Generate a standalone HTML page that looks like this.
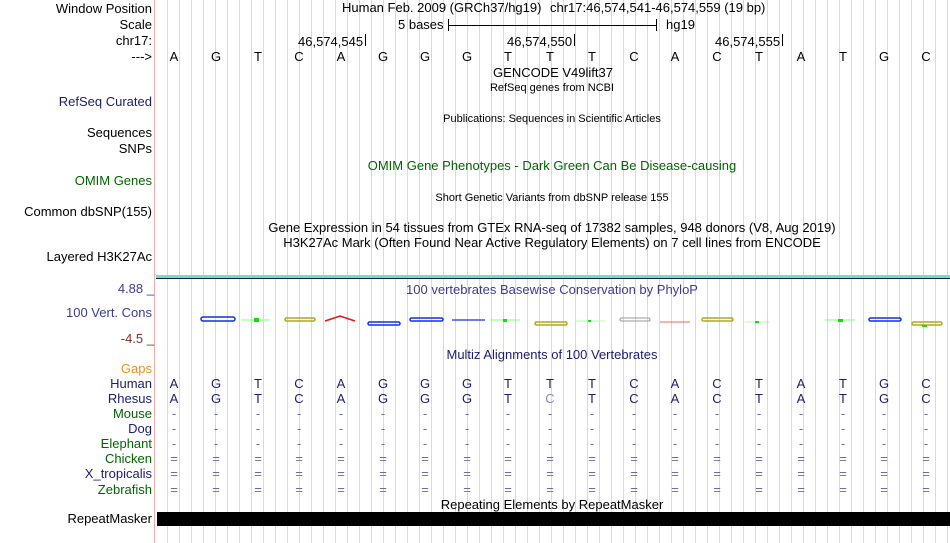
<!DOCTYPE html>
<html><head><meta charset="utf-8"><style>
body{margin:0;width:950px;height:543px;overflow:hidden;background:#fff;font-family:"Liberation Sans",sans-serif;font-size:13px;position:relative}
div,span{position:absolute;white-space:nowrap;line-height:14px}
.l{right:798px;text-align:right}
.c{width:40px;margin-left:-20px;text-align:center}
.t{width:800px;margin-left:-400px;text-align:center}
.s{font-size:11px}
#grid{left:156px;top:0;width:794px;height:543px;background:repeating-linear-gradient(90deg,transparent 0,transparent 11px,#d6d6f2 11px,#d6d6f2 12px);}
.n{color:#1c1c70}.g{color:#006400}.d{color:#6a6aa8}
</style></head><body>
<div id="grid"></div>
<div style="left:154px;top:0;width:1px;height:543px;background:#f4a8a8"></div>

<div class="l" style="top:2px">Window Position</div>
<div class="l" style="top:18px">Scale</div>
<div class="l" style="top:34px">chr17:</div>
<div class="l" style="top:50px">---&gt;</div>
<div class="l n" style="top:95px">RefSeq Curated</div>
<div class="l" style="top:126px">Sequences</div>
<div class="l" style="top:142px">SNPs</div>
<div class="l g" style="top:174px">OMIM Genes</div>
<div class="l" style="top:205px">Common dbSNP(155)</div>
<div class="l" style="top:250px">Layered H3K27Ac</div>

<div style="left:342px;top:1px">Human Feb. 2009 (GRCh37/hg19)</div>
<div style="left:550px;top:1px">chr17:46,574,541-46,574,559 (19 bp)</div>
<div style="left:398px;top:18px">5 bases</div>
<div style="left:448px;top:19px;width:1px;height:12px;background:#000"></div>
<div style="left:448px;top:25px;width:209px;height:1px;background:#000"></div>
<div style="left:656px;top:19px;width:1px;height:12px;background:#000"></div>
<div style="left:666px;top:18px">hg19</div>
<div style="left:298px;top:35px">46,574,545</div><div style="left:365px;top:34px;width:1px;height:12px;background:#000"></div>
<div style="left:507px;top:35px">46,574,550</div><div style="left:574px;top:34px;width:1px;height:12px;background:#000"></div>
<div style="left:715px;top:35px">46,574,555</div><div style="left:782px;top:34px;width:1px;height:12px;background:#000"></div>

<div class="c" style="left:174px;top:50px">A</div><div class="c" style="left:216px;top:50px">G</div><div class="c" style="left:258px;top:50px">T</div><div class="c" style="left:299px;top:50px">C</div><div class="c" style="left:341px;top:50px">A</div><div class="c" style="left:383px;top:50px">G</div><div class="c" style="left:425px;top:50px">G</div><div class="c" style="left:467px;top:50px">G</div><div class="c" style="left:508px;top:50px">T</div><div class="c" style="left:550px;top:50px">T</div><div class="c" style="left:592px;top:50px">T</div><div class="c" style="left:634px;top:50px">C</div><div class="c" style="left:675px;top:50px">A</div><div class="c" style="left:717px;top:50px">C</div><div class="c" style="left:759px;top:50px">T</div><div class="c" style="left:801px;top:50px">A</div><div class="c" style="left:843px;top:50px">T</div><div class="c" style="left:884px;top:50px">G</div><div class="c" style="left:926px;top:50px">C</div>

<div class="t" style="left:553px;top:66px">GENCODE V49lift37</div>
<div class="t s" style="left:552px;top:81px">RefSeq genes from NCBI</div>
<div class="t s" style="left:552px;top:112px">Publications: Sequences in Scientific Articles</div>
<div class="t g" style="left:552px;top:159px">OMIM Gene Phenotypes - Dark Green Can Be Disease-causing</div>
<div class="t s" style="left:552px;top:191px">Short Genetic Variants from dbSNP release 155</div>
<div class="t" style="left:552px;top:221px">Gene Expression in 54 tissues from GTEx RNA-seq of 17382 samples, 948 donors (V8, Aug 2019)</div>
<div class="t" style="left:552px;top:236px">H3K27Ac Mark (Often Found Near Active Regulatory Elements) on 7 cell lines from ENCODE</div>

<div style="left:156px;top:275px;width:794px;height:3px;background:#6ee0c4"></div>
<div style="left:156px;top:278px;width:794px;height:1px;background:#0f1a55"></div>

<div style="right:796px;top:282px;color:#3c3c8c">4.88 _</div>
<div class="l" style="top:306px;color:#3c3c8c">100 Vert. Cons</div>
<div style="right:796px;top:332px;color:#8b2a2a">-4.5 _</div>
<div class="t" style="left:552px;top:283px;color:#3c3c8c">100 vertebrates Basewise Conservation by PhyloP</div>
<svg style="position:absolute;left:0;top:0" width="950" height="543">
<g fill="none" stroke-width="1.5">
<rect x="201" y="317" width="34" height="4" rx="2" stroke="#1030e0"/>
<line x1="241" y1="320" x2="270" y2="320" stroke="#80ff80" stroke-width="1"/><rect x="254" y="318" width="5" height="4" fill="#10e010" stroke="none"/>
<rect x="285" y="318" width="30" height="3" rx="1.5" stroke="#b0a820"/>
<polyline points="325,321 340,316 355,321" stroke="#f01010"/>
<rect x="368" y="322" width="32" height="3" rx="1.5" stroke="#1030e0"/>
<rect x="410" y="318" width="33" height="3" rx="1.5" stroke="#1030e0"/>
<line x1="452" y1="320" x2="485" y2="320" stroke="#4050e0"/>
<line x1="490" y1="320" x2="520" y2="320" stroke="#80ff80" stroke-width="1"/><rect x="503" y="319" width="4" height="3" fill="#10e010" stroke="none"/>
<rect x="535" y="322" width="32" height="3" rx="1.5" stroke="#b0a820"/>
<line x1="575" y1="321" x2="605" y2="321" stroke="#b0ffb0" stroke-width="1"/><rect x="588" y="320" width="3" height="2" fill="#10e010" stroke="none"/>
<rect x="620" y="318" width="30" height="3" rx="1.5" stroke="#9a9a9a" stroke-width="1"/>
<line x1="660" y1="322" x2="690" y2="322" stroke="#f06060" stroke-width="1"/>
<rect x="702" y="318" width="31" height="3" rx="1.5" stroke="#b0a820"/>
<line x1="745" y1="322" x2="770" y2="322" stroke="#b0ffb0" stroke-width="1"/><rect x="755" y="321" width="4" height="2" fill="#10e010" stroke="none"/>
<line x1="825" y1="320" x2="855" y2="320" stroke="#80ff80" stroke-width="1"/><rect x="838" y="319" width="5" height="3" fill="#10e010" stroke="none"/>
<rect x="869" y="318" width="32" height="3" rx="1.5" stroke="#1030e0"/>
<rect x="912" y="322" width="30" height="3" rx="1.5" stroke="#b0a820"/><rect x="922" y="325" width="5" height="2" fill="#10e010" stroke="none"/>
</g></svg>

<div class="t n" style="left:552px;top:348px">Multiz Alignments of 100 Vertebrates</div>
<div class="l" style="top:362px;color:#f09018">Gaps</div>
<div class="l n" style="top:377px">Human</div>
<div class="l n" style="top:392px">Rhesus</div>
<div class="l g" style="top:407px">Mouse</div>
<div class="l n" style="top:422px">Dog</div>
<div class="l g" style="top:437px">Elephant</div>
<div class="l g" style="top:452px">Chicken</div>
<div class="l n" style="top:467px">X_tropicalis</div>
<div class="l g" style="top:483px">Zebrafish</div>

<div class="n">
<div class="c" style="left:174px;top:377px">A</div><div class="c" style="left:216px;top:377px">G</div><div class="c" style="left:258px;top:377px">T</div><div class="c" style="left:299px;top:377px">C</div><div class="c" style="left:341px;top:377px">A</div><div class="c" style="left:383px;top:377px">G</div><div class="c" style="left:425px;top:377px">G</div><div class="c" style="left:467px;top:377px">G</div><div class="c" style="left:508px;top:377px">T</div><div class="c" style="left:550px;top:377px">T</div><div class="c" style="left:592px;top:377px">T</div><div class="c" style="left:634px;top:377px">C</div><div class="c" style="left:675px;top:377px">A</div><div class="c" style="left:717px;top:377px">C</div><div class="c" style="left:759px;top:377px">T</div><div class="c" style="left:801px;top:377px">A</div><div class="c" style="left:843px;top:377px">T</div><div class="c" style="left:884px;top:377px">G</div><div class="c" style="left:926px;top:377px">C</div>
<div class="c" style="left:174px;top:392px">A</div><div class="c" style="left:216px;top:392px">G</div><div class="c" style="left:258px;top:392px">T</div><div class="c" style="left:299px;top:392px">C</div><div class="c" style="left:341px;top:392px">A</div><div class="c" style="left:383px;top:392px">G</div><div class="c" style="left:425px;top:392px">G</div><div class="c" style="left:467px;top:392px">G</div><div class="c" style="left:508px;top:392px">T</div><div class="c" style="left:550px;top:392px;color:#8a8ab8">C</div><div class="c" style="left:592px;top:392px">T</div><div class="c" style="left:634px;top:392px">C</div><div class="c" style="left:675px;top:392px">A</div><div class="c" style="left:717px;top:392px">C</div><div class="c" style="left:759px;top:392px">T</div><div class="c" style="left:801px;top:392px">A</div><div class="c" style="left:843px;top:392px">T</div><div class="c" style="left:884px;top:392px">G</div><div class="c" style="left:926px;top:392px">C</div>
</div>
<div class="d">
<div class="c" style="left:174px;top:407px">-</div><div class="c" style="left:216px;top:407px">-</div><div class="c" style="left:258px;top:407px">-</div><div class="c" style="left:299px;top:407px">-</div><div class="c" style="left:341px;top:407px">-</div><div class="c" style="left:383px;top:407px">-</div><div class="c" style="left:425px;top:407px">-</div><div class="c" style="left:467px;top:407px">-</div><div class="c" style="left:508px;top:407px">-</div><div class="c" style="left:550px;top:407px">-</div><div class="c" style="left:592px;top:407px">-</div><div class="c" style="left:634px;top:407px">-</div><div class="c" style="left:675px;top:407px">-</div><div class="c" style="left:717px;top:407px">-</div><div class="c" style="left:759px;top:407px">-</div><div class="c" style="left:801px;top:407px">-</div><div class="c" style="left:843px;top:407px">-</div><div class="c" style="left:884px;top:407px">-</div><div class="c" style="left:926px;top:407px">-</div>
<div class="c" style="left:174px;top:422px">-</div><div class="c" style="left:216px;top:422px">-</div><div class="c" style="left:258px;top:422px">-</div><div class="c" style="left:299px;top:422px">-</div><div class="c" style="left:341px;top:422px">-</div><div class="c" style="left:383px;top:422px">-</div><div class="c" style="left:425px;top:422px">-</div><div class="c" style="left:467px;top:422px">-</div><div class="c" style="left:508px;top:422px">-</div><div class="c" style="left:550px;top:422px">-</div><div class="c" style="left:592px;top:422px">-</div><div class="c" style="left:634px;top:422px">-</div><div class="c" style="left:675px;top:422px">-</div><div class="c" style="left:717px;top:422px">-</div><div class="c" style="left:759px;top:422px">-</div><div class="c" style="left:801px;top:422px">-</div><div class="c" style="left:843px;top:422px">-</div><div class="c" style="left:884px;top:422px">-</div><div class="c" style="left:926px;top:422px">-</div>
<div class="c" style="left:174px;top:437px">-</div><div class="c" style="left:216px;top:437px">-</div><div class="c" style="left:258px;top:437px">-</div><div class="c" style="left:299px;top:437px">-</div><div class="c" style="left:341px;top:437px">-</div><div class="c" style="left:383px;top:437px">-</div><div class="c" style="left:425px;top:437px">-</div><div class="c" style="left:467px;top:437px">-</div><div class="c" style="left:508px;top:437px">-</div><div class="c" style="left:550px;top:437px">-</div><div class="c" style="left:592px;top:437px">-</div><div class="c" style="left:634px;top:437px">-</div><div class="c" style="left:675px;top:437px">-</div><div class="c" style="left:717px;top:437px">-</div><div class="c" style="left:759px;top:437px">-</div><div class="c" style="left:801px;top:437px">-</div><div class="c" style="left:843px;top:437px">-</div><div class="c" style="left:884px;top:437px">-</div><div class="c" style="left:926px;top:437px">-</div>
<div class="c" style="left:174px;top:452px">=</div><div class="c" style="left:216px;top:452px">=</div><div class="c" style="left:258px;top:452px">=</div><div class="c" style="left:299px;top:452px">=</div><div class="c" style="left:341px;top:452px">=</div><div class="c" style="left:383px;top:452px">=</div><div class="c" style="left:425px;top:452px">=</div><div class="c" style="left:467px;top:452px">=</div><div class="c" style="left:508px;top:452px">=</div><div class="c" style="left:550px;top:452px">=</div><div class="c" style="left:592px;top:452px">=</div><div class="c" style="left:634px;top:452px">=</div><div class="c" style="left:675px;top:452px">=</div><div class="c" style="left:717px;top:452px">=</div><div class="c" style="left:759px;top:452px">=</div><div class="c" style="left:801px;top:452px">=</div><div class="c" style="left:843px;top:452px">=</div><div class="c" style="left:884px;top:452px">=</div><div class="c" style="left:926px;top:452px">=</div>
<div class="c" style="left:174px;top:467px">=</div><div class="c" style="left:216px;top:467px">=</div><div class="c" style="left:258px;top:467px">=</div><div class="c" style="left:299px;top:467px">=</div><div class="c" style="left:341px;top:467px">=</div><div class="c" style="left:383px;top:467px">=</div><div class="c" style="left:425px;top:467px">=</div><div class="c" style="left:467px;top:467px">=</div><div class="c" style="left:508px;top:467px">=</div><div class="c" style="left:550px;top:467px">=</div><div class="c" style="left:592px;top:467px">=</div><div class="c" style="left:634px;top:467px">=</div><div class="c" style="left:675px;top:467px">=</div><div class="c" style="left:717px;top:467px">=</div><div class="c" style="left:759px;top:467px">=</div><div class="c" style="left:801px;top:467px">=</div><div class="c" style="left:843px;top:467px">=</div><div class="c" style="left:884px;top:467px">=</div><div class="c" style="left:926px;top:467px">=</div>
<div class="c" style="left:174px;top:483px">=</div><div class="c" style="left:216px;top:483px">=</div><div class="c" style="left:258px;top:483px">=</div><div class="c" style="left:299px;top:483px">=</div><div class="c" style="left:341px;top:483px">=</div><div class="c" style="left:383px;top:483px">=</div><div class="c" style="left:425px;top:483px">=</div><div class="c" style="left:467px;top:483px">=</div><div class="c" style="left:508px;top:483px">=</div><div class="c" style="left:550px;top:483px">=</div><div class="c" style="left:592px;top:483px">=</div><div class="c" style="left:634px;top:483px">=</div><div class="c" style="left:675px;top:483px">=</div><div class="c" style="left:717px;top:483px">=</div><div class="c" style="left:759px;top:483px">=</div><div class="c" style="left:801px;top:483px">=</div><div class="c" style="left:843px;top:483px">=</div><div class="c" style="left:884px;top:483px">=</div><div class="c" style="left:926px;top:483px">=</div>
</div>

<div class="t" style="left:552px;top:498px">Repeating Elements by RepeatMasker</div>
<div class="l" style="top:512px">RepeatMasker</div>
<div style="left:157px;top:512px;width:793px;height:14px;background:#000"></div>
</body></html>
